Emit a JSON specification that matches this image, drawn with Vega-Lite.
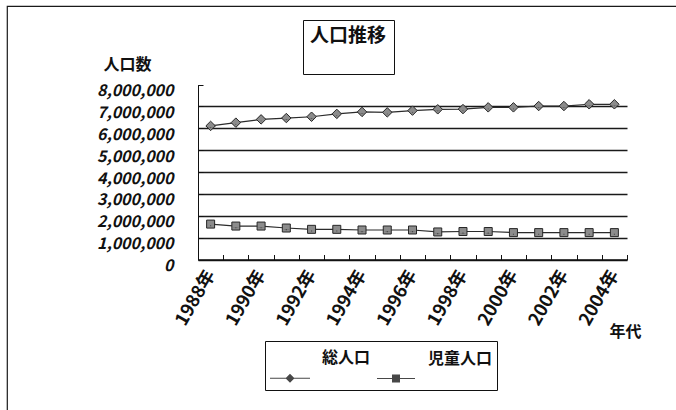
{
  "$schema": "https://vega.github.io/schema/vega-lite/v6.json",
  "width": 672,
  "height": 406,
  "autosize": "none",
  "padding": {"left": 7, "top": 6, "right": 0, "bottom": 0},
  "background": "white",
  "config": {
    "font": "Noto Sans CJK JP",
    "view": {"stroke": "#1a1a1a", "strokeWidth": 1.2},
    "axis": {"labelColor": "#111", "titleColor": "#111", "domainColor": "#111", "tickColor": "#111"},
    "legend": {"labelColor": "#111", "titleColor": "#111"}
  },
  "data": {
    "values": [
      {"year": "1988年", "series": "総人口", "value": 6110000},
      {"year": "1989年", "series": "総人口", "value": 6260000},
      {"year": "1990年", "series": "総人口", "value": 6410000},
      {"year": "1991年", "series": "総人口", "value": 6470000},
      {"year": "1992年", "series": "総人口", "value": 6530000},
      {"year": "1993年", "series": "総人口", "value": 6660000},
      {"year": "1994年", "series": "総人口", "value": 6750000},
      {"year": "1995年", "series": "総人口", "value": 6730000},
      {"year": "1996年", "series": "総人口", "value": 6810000},
      {"year": "1997年", "series": "総人口", "value": 6870000},
      {"year": "1998年", "series": "総人口", "value": 6880000},
      {"year": "1999年", "series": "総人口", "value": 6960000},
      {"year": "2000年", "series": "総人口", "value": 6960000},
      {"year": "2001年", "series": "総人口", "value": 7020000},
      {"year": "2002年", "series": "総人口", "value": 7020000},
      {"year": "2003年", "series": "総人口", "value": 7100000},
      {"year": "2004年", "series": "総人口", "value": 7100000},
      {"year": "1988年", "series": "児童人口", "value": 1620000},
      {"year": "1989年", "series": "児童人口", "value": 1530000},
      {"year": "1990年", "series": "児童人口", "value": 1530000},
      {"year": "1991年", "series": "児童人口", "value": 1440000},
      {"year": "1992年", "series": "児童人口", "value": 1380000},
      {"year": "1993年", "series": "児童人口", "value": 1380000},
      {"year": "1994年", "series": "児童人口", "value": 1350000},
      {"year": "1995年", "series": "児童人口", "value": 1350000},
      {"year": "1996年", "series": "児童人口", "value": 1350000},
      {"year": "1997年", "series": "児童人口", "value": 1260000},
      {"year": "1998年", "series": "児童人口", "value": 1280000},
      {"year": "1999年", "series": "児童人口", "value": 1280000},
      {"year": "2000年", "series": "児童人口", "value": 1230000},
      {"year": "2001年", "series": "児童人口", "value": 1230000},
      {"year": "2002年", "series": "児童人口", "value": 1230000},
      {"year": "2003年", "series": "児童人口", "value": 1230000},
      {"year": "2004年", "series": "児童人口", "value": 1230000}
    ]
  },
  "encoding": {
    "x": {
      "field": "year",
      "type": "nominal",
      "sort": null,
      "scale": {"type": "band", "range": [191, 620], "paddingInner": 0, "paddingOuter": 0},
      "axis": {
        "title": "年代",
        "titleAngle": 0,
        "titleX": 618,
        "titleY": 72,
        "titleAlign": "center",
        "titleBaseline": "middle",
        "titleFontSize": 16,
        "titleFontWeight": "bold",
        "offset": -152.5,
        "domainWidth": 1.5,
        "tickBand": "extent",
        "tickSize": -5,
        "tickWidth": 1,
        "grid": false,
        "labelAngle": -60,
        "labelAlign": "right",
        "labelBaseline": "middle",
        "labelPadding": 17,
        "labelFontSize": 18,
        "labelFontWeight": "bold",
        "labelOverlap": false,
        "labelExpr": "parseInt(datum.value) % 2 == 0 ? datum.value : ''"
      }
    },
    "y": {
      "field": "value",
      "type": "quantitative",
      "scale": {"domain": [0, 8000000], "range": [253.5, 78.6], "nice": false},
      "axis": {
        "title": "人口数",
        "titleAngle": 0,
        "titleX": -71,
        "titleY": 58,
        "titleAlign": "center",
        "titleBaseline": "middle",
        "titleFontSize": 16,
        "titleFontWeight": "bold",
        "offset": -191,
        "values": [0, 1000000, 2000000, 3000000, 4000000, 5000000, 6000000, 7000000, 8000000],
        "labelExpr": "format(datum.value, ',')",
        "labelFontSize": 16,
        "labelFontStyle": "italic",
        "labelFontWeight": "bold",
        "labelPadding": 30,
        "labelOffset": 6,
        "tickSize": -5,
        "tickWidth": 1,
        "domainWidth": 1,
        "grid": true,
        "gridColor": "#1a1a1a",
        "gridWidth": 1.6,
        "gridOpacity": {"condition": {"test": "datum.value >= 8000000", "value": 0}, "value": 1}
      }
    }
  },
  "layer": [
    {
      "mark": {"type": "line", "stroke": "#2b2b2b", "strokeWidth": 1.2},
      "encoding": {"detail": {"field": "series"}}
    },
    {
      "mark": {"type": "point", "filled": true, "fill": "#8c8c8c", "stroke": "#262626", "strokeWidth": 1, "opacity": 1},
      "encoding": {
        "shape": {"field": "series", "scale": {"domain": ["総人口", "児童人口"], "range": ["diamond", "square"]}, "legend": null},
        "size": {"field": "series", "type": "nominal", "scale": {"domain": ["総人口", "児童人口"], "range": [90, 64]}, "legend": null}
      }
    },
    {
      "mark": {"type": "point", "filled": true, "fill": "#474747", "strokeWidth": 0},
      "encoding": {
        "shape": {
          "field": "series",
          "scale": {
            "domain": ["総人口", "児童人口"],
            "range": [
              "M-1,0.57H1V0.63H-1ZM0,0.375L0.225,0.6L0,0.825L-0.225,0.6Z",
              "M-0.95,0.57H0.95V0.63H-0.95ZM-0.2,0.4H0.2V0.8H-0.2Z"
            ]
          },
          "legend": {
            "title": null,
            "orient": "none",
            "legendX": 258,
            "legendY": 335,
            "direction": "horizontal",
            "strokeColor": "#111",
            "padding": 4,
            "symbolSize": 1600,
            "symbolOpacity": 1,
            "labelFontSize": 16,
            "labelFontWeight": "bold",
            "labelBaseline": "bottom",
            "labelOffset": 11,
            "columnPadding": 3
          }
        },
        "opacity": {
          "datum": "人口推移",
          "type": "ordinal",
          "scale": {"range": [0]},
          "legend": {
            "title": "人口推移",
            "orient": "none",
            "legendX": 296,
            "legendY": 14,
            "strokeColor": "#111",
            "padding": 7,
            "titleFontSize": 19,
            "titleFontWeight": "bold",
            "titlePadding": 5,
            "symbolType": "M0,0",
            "symbolSize": 400,
            "labelExpr": "''"
          }
        }
      }
    }
  ],
  "resolve": {"scale": {"shape": "independent"}}
}
